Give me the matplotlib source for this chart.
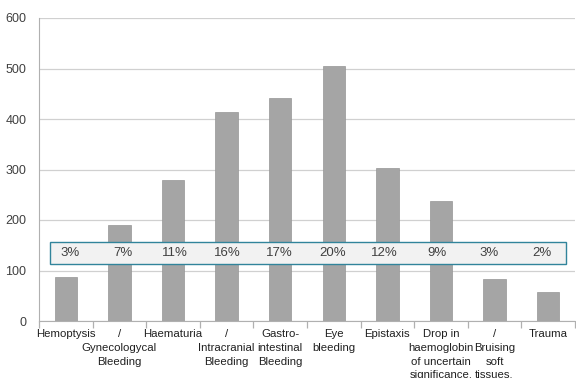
import matplotlib
matplotlib.use("Agg")
import matplotlib.pyplot as plt
from matplotlib.patches import Rectangle
import numpy as np

categories = ["Hemoptysis", "/\nGynecologycal\nBleeding", "Haematuria",
              "/\nIntracranial\nBleeding", "Gastro-\nintestinal\nBleeding",
              "Eye\nbleeding", "Epistaxis",
              "Drop in\nhaemoglobin\nof uncertain\nsignificance.",
              "/\nBruising\nsoft\ntissues.", "Trauma"]
values = [87, 190, 279, 414, 441, 505, 303, 238, 83, 57]
percents = ["3%", "7%", "11%", "16%", "17%", "20%", "12%", "9%", "3%", "2%"]
yticks = [0, 100, 200, 300, 400, 500, 600]

plt.rcParams['font.family'] = ['Liberation Sans', 'DejaVu Sans']

fig = plt.figure(figsize=(5.76, 3.78), dpi=100)
ax = fig.add_axes([39/576, (378-321)/378, (575-39)/576, (321-18)/378])

x = np.arange(len(categories))
ax.bar(x, values, width=0.42, color="#a5a5a5", edgecolor="#969696", linewidth=0.5, zorder=3)

ax.set_xlim(-0.5, len(categories) - 0.5)
ax.set_ylim(0, 600)
ax.set_yticks(yticks)
ax.set_yticklabels([str(v) for v in yticks], fontsize=9, color="#404040")
ax.tick_params(axis='y', length=0, pad=9)
ax.yaxis.grid(True, color="#d0d0d0", linewidth=0.9, zorder=0)
ax.set_axisbelow(True)

ax.set_xticks(x)
ax.set_xticklabels(categories, fontsize=8.2, color="#202020", linespacing=1.45, va='top')
ax.tick_params(axis='x', which='major', length=0, pad=6)
ax.set_xticks(np.arange(-0.5, len(categories) + 0.5, 1), minor=True)
ax.tick_params(axis='x', which='minor', length=5, color="#b0b0b0", width=0.9)

for s in ['top', 'right']:
    ax.spines[s].set_visible(False)
ax.spines['left'].set_color("#b0b0b0")
ax.spines['bottom'].set_color("#b0b0b0")

# percentage text box (labels evenly tabbed inside the box)
ax.add_patch(Rectangle((-0.3, 113), 9.63, 43, facecolor="#f2f2f2", edgecolor="#31849b",
                       linewidth=1.0, zorder=4))
label_x = np.linspace(0.08, 8.88, len(percents))
for xi, p in zip(label_x, percents):
    ax.text(xi, 134, p, ha='center', va='center', fontsize=9.5, color="#404040", zorder=5)

fig.savefig("out.png", dpi=100)
